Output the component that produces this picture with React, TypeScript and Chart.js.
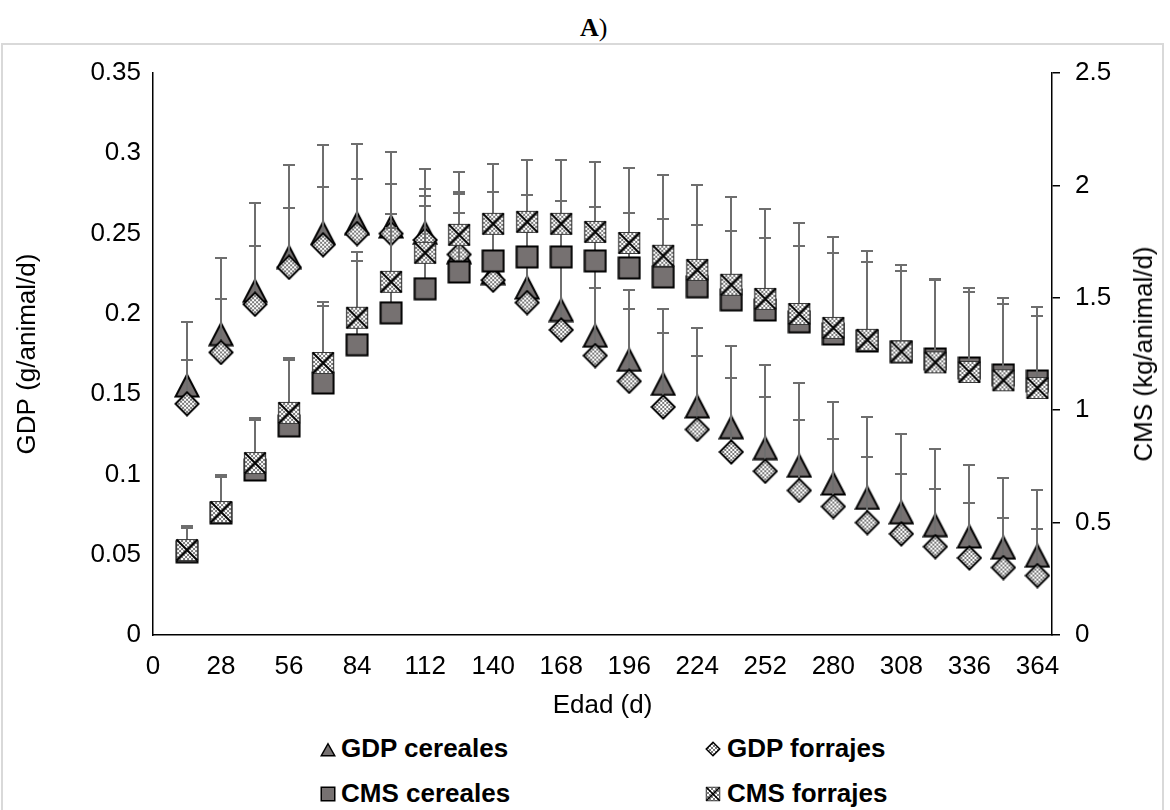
import React, { useEffect, useRef } from 'react';
import { Chart, registerables } from 'chart.js';

Chart.register(...registerables);

const FONT = '"Liberation Sans", Arial, Helvetica, sans-serif';
const SERIF = '"Liberation Serif", "Times New Roman", serif';
const GRAY = '#767171';
const BAR = '#6e6e6e';

// Edad (d)
const ages = [14, 28, 42, 56, 70, 84, 98, 112, 126, 140, 154, 168, 182, 196, 210, 224, 238, 252, 266, 280, 294, 308, 322, 336, 350, 364];

// GDP (g/animal/d) – left axis
const gdpCereales = [0.156, 0.188, 0.215, 0.236, 0.251, 0.257, 0.255, 0.251, 0.239, 0.226, 0.217, 0.203, 0.187, 0.172, 0.157, 0.143, 0.130, 0.117, 0.106, 0.095, 0.086, 0.077, 0.069, 0.062, 0.055, 0.050];
const gdpCerealesSD = [0.039, 0.047, 0.054, 0.057, 0.054, 0.049, 0.046, 0.039, 0.037, 0.036, 0.034, 0.037, 0.046, 0.043, 0.046, 0.048, 0.050, 0.051, 0.051, 0.050, 0.050, 0.048, 0.047, 0.044, 0.043, 0.040];
const gdpForrajes = [0.144, 0.176, 0.206, 0.229, 0.243, 0.250, 0.250, 0.246, 0.237, 0.221, 0.207, 0.190, 0.174, 0.158, 0.142, 0.128, 0.114, 0.102, 0.090, 0.080, 0.070, 0.063, 0.055, 0.048, 0.042, 0.037];
const gdpForrajesSD = [0.027, 0.033, 0.036, 0.037, 0.036, 0.034, 0.031, 0.032, 0.026, 0.034, 0.033, 0.040, 0.042, 0.045, 0.046, 0.046, 0.046, 0.046, 0.044, 0.042, 0.041, 0.037, 0.036, 0.034, 0.031, 0.029];

// CMS (kg/animal/d) – right axis
const cmsCereales = [0.370, 0.543, 0.734, 0.930, 1.121, 1.291, 1.433, 1.540, 1.615, 1.664, 1.682, 1.682, 1.664, 1.633, 1.593, 1.549, 1.491, 1.446, 1.393, 1.339, 1.308, 1.260, 1.228, 1.188, 1.157, 1.130];
const cmsCerealesSD = [0.107, 0.160, 0.222, 0.294, 0.343, 0.374, 0.378, 0.369, 0.347, 0.307, 0.276, 0.249, 0.240, 0.245, 0.258, 0.276, 0.307, 0.320, 0.338, 0.360, 0.352, 0.360, 0.352, 0.338, 0.316, 0.289];
const cmsForrajes = [0.378, 0.547, 0.765, 0.988, 1.210, 1.411, 1.571, 1.700, 1.780, 1.829, 1.838, 1.829, 1.793, 1.744, 1.687, 1.624, 1.558, 1.495, 1.428, 1.366, 1.313, 1.261, 1.213, 1.170, 1.133, 1.099];
const cmsForrajesSD = [0.107, 0.165, 0.200, 0.245, 0.271, 0.294, 0.303, 0.254, 0.280, 0.267, 0.276, 0.285, 0.312, 0.334, 0.360, 0.378, 0.392, 0.401, 0.405, 0.405, 0.396, 0.387, 0.372, 0.374, 0.367, 0.360];

const seriesLabels = ['GDP cereales', 'GDP forrajes', 'CMS cereales', 'CMS forrajes'];
const markerKinds = ['triangle', 'diamond', 'square', 'xsquare'];

function makeChecker(): HTMLCanvasElement {
  const c = document.createElement('canvas');
  c.width = 4;
  c.height = 4;
  const g = c.getContext('2d') as CanvasRenderingContext2D;
  g.fillStyle = '#ffffff';
  g.fillRect(0, 0, 4, 4);
  g.fillStyle = '#7a7a7a';
  g.fillRect(0, 0, 2, 2);
  g.fillRect(2, 2, 2, 2);
  return c;
}

function paintMarker(c: HTMLCanvasElement, kind: string, lw: number) {
  const w = c.width;
  const h = c.height;
  const g = c.getContext('2d') as CanvasRenderingContext2D;
  g.clearRect(0, 0, w, h);
  const pat = g.createPattern(makeChecker(), 'repeat') as CanvasPattern;
  g.lineWidth = lw;
  g.strokeStyle = '#000';
  g.lineJoin = 'miter';
  const m = lw / 2 + 0.5;
  g.beginPath();
  if (kind === 'triangle') {
    g.moveTo(w / 2, m + lw);
    g.lineTo(w - m, h - m);
    g.lineTo(m, h - m);
    g.closePath();
    g.fillStyle = GRAY;
    g.fill();
    g.stroke();
  } else if (kind === 'diamond') {
    g.moveTo(w / 2, m);
    g.lineTo(w - m, h / 2);
    g.lineTo(w / 2, h - m);
    g.lineTo(m, h / 2);
    g.closePath();
    g.fillStyle = pat;
    g.fill();
    g.stroke();
  } else if (kind === 'square') {
    g.rect(m, m, w - 2 * m, h - 2 * m);
    g.fillStyle = GRAY;
    g.fill();
    g.stroke();
  } else {
    g.rect(m, m, w - 2 * m, h - 2 * m);
    g.fillStyle = pat;
    g.fill();
    g.lineWidth = Math.max(1, lw * 0.6);
    g.strokeStyle = '#3a3a3a';
    g.stroke();
    g.beginPath();
    g.moveTo(m, m);
    g.lineTo(w - m, h - m);
    g.moveTo(w - m, m);
    g.lineTo(m, h - m);
    g.lineWidth = lw;
    g.strokeStyle = '#000';
    g.stroke();
  }
}

function makeMarker(kind: string, w: number, h: number, lw: number): HTMLCanvasElement {
  const c = document.createElement('canvas');
  c.width = w;
  c.height = h;
  paintMarker(c, kind, lw);
  return c;
}

const errorBarPlugin = {
  id: 'errorBars',
  beforeDatasetDraw(chart: any, args: any) {
    const ds = chart.data.datasets[args.index];
    const errs: number[] | undefined = ds.errors;
    if (!errs) return;
    const scale = chart.scales[ds.yAxisID];
    const ctx = chart.ctx as CanvasRenderingContext2D;
    ctx.save();
    ctx.strokeStyle = BAR;
    ctx.lineWidth = 2;
    args.meta.data.forEach((pt: any, i: number) => {
      const top = scale.getPixelForValue(ds.data[i].y + errs[i]);
      const x = Math.round(pt.x);
      const yt = Math.round(top);
      ctx.beginPath();
      ctx.moveTo(x, pt.y);
      ctx.lineTo(x, yt);
      ctx.moveTo(x - 6, yt);
      ctx.lineTo(x + 6, yt);
      ctx.stroke();
    });
    ctx.restore();
  },
};

export default function App() {
  const canvasRef = useRef<HTMLCanvasElement>(null);
  const icon0 = useRef<HTMLCanvasElement>(null);
  const icon1 = useRef<HTMLCanvasElement>(null);
  const icon2 = useRef<HTMLCanvasElement>(null);
  const icon3 = useRef<HTMLCanvasElement>(null);
  const iconRefs = [icon0, icon1, icon2, icon3];

  useEffect(() => {
    const tri = makeMarker('triangle', 26, 27, 2);
    const dia = makeMarker('diamond', 26, 26, 2);
    const sq = makeMarker('square', 24, 24, 2);
    const xsq = makeMarker('xsquare', 24, 24, 2);

    iconRefs.forEach((r, i) => {
      if (r.current) paintMarker(r.current, markerKinds[i], 1.5);
    });

    const toPts = (vals: number[]) => ages.map((x, i) => ({ x, y: vals[i] }));
    const tickFont = { family: FONT, size: 26 };
    const titleFont = { family: FONT, size: 26 };

    const chart = new Chart(canvasRef.current as HTMLCanvasElement, {
      type: 'scatter',
      data: {
        datasets: [
          { label: seriesLabels[0], data: toPts(gdpCereales), yAxisID: 'y', pointStyle: tri, pointRadius: 12, order: 4, errors: gdpCerealesSD } as any,
          { label: seriesLabels[1], data: toPts(gdpForrajes), yAxisID: 'y', pointStyle: dia, pointRadius: 12, order: 3, errors: gdpForrajesSD } as any,
          { label: seriesLabels[2], data: toPts(cmsCereales), yAxisID: 'y1', pointStyle: sq, pointRadius: 12, order: 2, errors: cmsCerealesSD } as any,
          { label: seriesLabels[3], data: toPts(cmsForrajes), yAxisID: 'y1', pointStyle: xsq, pointRadius: 12, order: 1, errors: cmsForrajesSD } as any,
        ],
      },
      options: {
        responsive: false,
        maintainAspectRatio: false,
        animation: false,
        events: [],
        layout: { padding: { top: 73, left: 0, right: 0, bottom: 0 } },
        plugins: {
          legend: { display: false },
          tooltip: { enabled: false },
        },
        scales: {
          x: {
            type: 'linear',
            position: 'bottom',
            min: 0,
            max: 370,
            afterFit: (s: any) => { s.height = 95; },
            ticks: { stepSize: 28, includeBounds: false, autoSkip: false, maxRotation: 0, color: '#000', font: tickFont, padding: 16 },
            grid: { display: false, drawTicks: false },
            border: { display: true, color: '#000', width: 1.5 },
            title: { display: true, text: 'Edad (d)', color: '#000', font: titleFont, padding: { top: 0, bottom: 9 } },
          },
          y: {
            type: 'linear',
            position: 'left',
            min: 0,
            max: 0.35,
            afterFit: (s: any) => { s.width = 153; },
            ticks: { stepSize: 0.05, color: '#000', font: tickFont, padding: 12, callback: (v: any) => String(Math.round(Number(v) * 100) / 100) },
            grid: { display: false, drawTicks: false },
            border: { display: true, color: '#000', width: 1.5 },
            title: { display: true, text: 'GDP (g/animal/d)', color: '#000', font: titleFont, padding: { top: 12, bottom: 0 } },
          },
          y1: {
            type: 'linear',
            position: 'right',
            min: 0,
            max: 2.5,
            afterFit: (s: any) => { s.width = 118; },
            ticks: { stepSize: 0.5, color: '#000', font: tickFont, padding: 15, callback: (v: any) => String(Math.round(Number(v) * 10) / 10) },
            grid: { display: true, drawOnChartArea: false, drawTicks: true, tickLength: 8, color: '#000', tickColor: '#000', lineWidth: 1.5 },
            border: { display: true, color: '#000', width: 1.5 },
            title: { display: false },
          },
        },
      } as any,
      plugins: [errorBarPlugin],
    });
    return () => chart.destroy();
  }, []);

  const legendPos = [
    { iconX: 320, textX: 341, baseline: 757 },
    { iconX: 705, textX: 727, baseline: 757 },
    { iconX: 320, textX: 341, baseline: 802 },
    { iconX: 705, textX: 727, baseline: 802 },
  ];

  return (
    <div style={{ position: 'absolute', left: 0, top: 0, width: 1170, height: 810, overflow: 'hidden', background: '#fff' }}>
      <div style={{ position: 'absolute', left: 580, top: 15, fontFamily: SERIF, fontSize: 26, lineHeight: '26px', color: '#000', whiteSpace: 'nowrap' }}>
        <b>A</b>)
      </div>
      <div style={{ position: 'absolute', left: 1, top: 43, width: 1163, height: 820, border: '2px solid #d9d9d9', boxSizing: 'border-box' }} />
      <canvas ref={canvasRef} width={1170} height={730} style={{ position: 'absolute', left: 0, top: 0 }} />
      <div style={{ position: 'absolute', left: 1143, top: 354, transform: 'translate(-50%, -50%) rotate(-90deg)', fontFamily: FONT, fontSize: 26, lineHeight: '30px', color: '#000', whiteSpace: 'nowrap' }}>
        CMS (kg/animal/d)
      </div>
      {seriesLabels.map((lab, i) => (
        <React.Fragment key={lab}>
          <canvas ref={iconRefs[i]} width={16} height={16} style={{ position: 'absolute', left: legendPos[i].iconX, top: legendPos[i].baseline - 16 }} />
          <div style={{ position: 'absolute', left: legendPos[i].textX, top: legendPos[i].baseline - 22, fontFamily: FONT, fontWeight: 'bold', fontSize: 26, lineHeight: '26px', color: '#000', whiteSpace: 'nowrap' }}>
            {lab}
          </div>
        </React.Fragment>
      ))}
    </div>
  );
}
